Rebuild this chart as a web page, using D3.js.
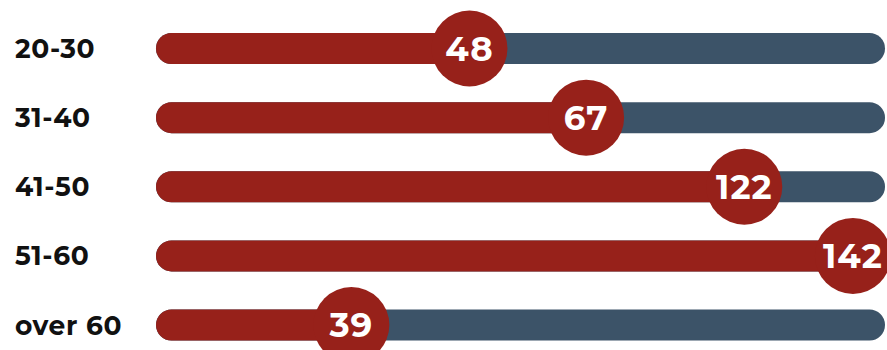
<!DOCTYPE html>
<html>
<head>
<meta charset="utf-8">
<script src="https://cdn.jsdelivr.net/npm/d3@7"></script>
<style>
  body { margin: 0; background: #fff; }
  svg { display: block; }
</style>
</head>
<body>
<div id="chart"></div>
<script>
// age groups, counts shown in the dots, and share of each track filled (%)
const groups = ["20-30", "31-40", "41-50", "51-60", "over 60"];
const counts = [48, 67, 122, 142, 39];
const shares = [43, 59, 80.7, 95.6, 26.8];

const width = 887;
const height = 350;
const trackLeft = 156;
const trackRight = 885;
const barH = 31;
const dotR = 38;

const svg = d3
  .select("#chart")
  .append("svg")
  .attr("width", width)
  .attr("height", height)
  .attr("viewBox", [0, 0, width, height]);

const y = d3.scalePoint().domain(groups).range([48.5, 325]);
const x = d3.scaleLinear().domain([0, 100]).range([trackLeft, trackRight]);

const rows = groups.map((g, i) => ({ group: g, count: counts[i], share: shares[i] }));

// labels
svg
  .append("g")
  .selectAll("text")
  .data(rows)
  .join("text")
  .attr("x", 15)
  .attr("y", (d) => y(d.group))
  .attr("dy", "0.36em")
  .attr("font-family", "Montserrat, 'Open Sans', sans-serif")
  .attr("font-weight", 700)
  .attr("font-size", 26.5)
  .attr("letter-spacing", 0.6)
  .attr("fill", "#111")
  .text((d) => d.group);

// background tracks
svg
  .append("g")
  .selectAll("rect")
  .data(rows)
  .join("rect")
  .attr("x", x(0))
  .attr("y", (d) => y(d.group) - barH / 2)
  .attr("width", x(100) - x(0))
  .attr("height", barH)
  .attr("rx", barH / 2)
  .attr("fill", "#3c5368");

// filled part
svg
  .append("g")
  .selectAll("rect")
  .data(rows)
  .join("rect")
  .attr("x", x(0))
  .attr("y", (d) => y(d.group) - barH / 2)
  .attr("width", (d) => x(d.share) - x(0))
  .attr("height", barH)
  .attr("rx", barH / 2)
  .attr("fill", "#97211a");

// dots
svg
  .append("g")
  .selectAll("circle")
  .data(rows)
  .join("circle")
  .attr("cx", (d) => x(d.share))
  .attr("cy", (d) => y(d.group))
  .attr("r", dotR)
  .attr("fill", "#97211a");

svg
  .append("g")
  .selectAll("text")
  .data(rows)
  .join("text")
  .attr("x", (d) => x(d.share))
  .attr("y", (d) => y(d.group))
  .attr("dy", "0.36em")
  .attr("text-anchor", "middle")
  .attr("font-family", "Montserrat, 'Open Sans', sans-serif")
  .attr("font-weight", 700)
  .attr("font-size", 34)
  .attr("letter-spacing", 1)
  .attr("fill", "#fff")
  .text((d) => d.count);
</script>
</body>
</html>
